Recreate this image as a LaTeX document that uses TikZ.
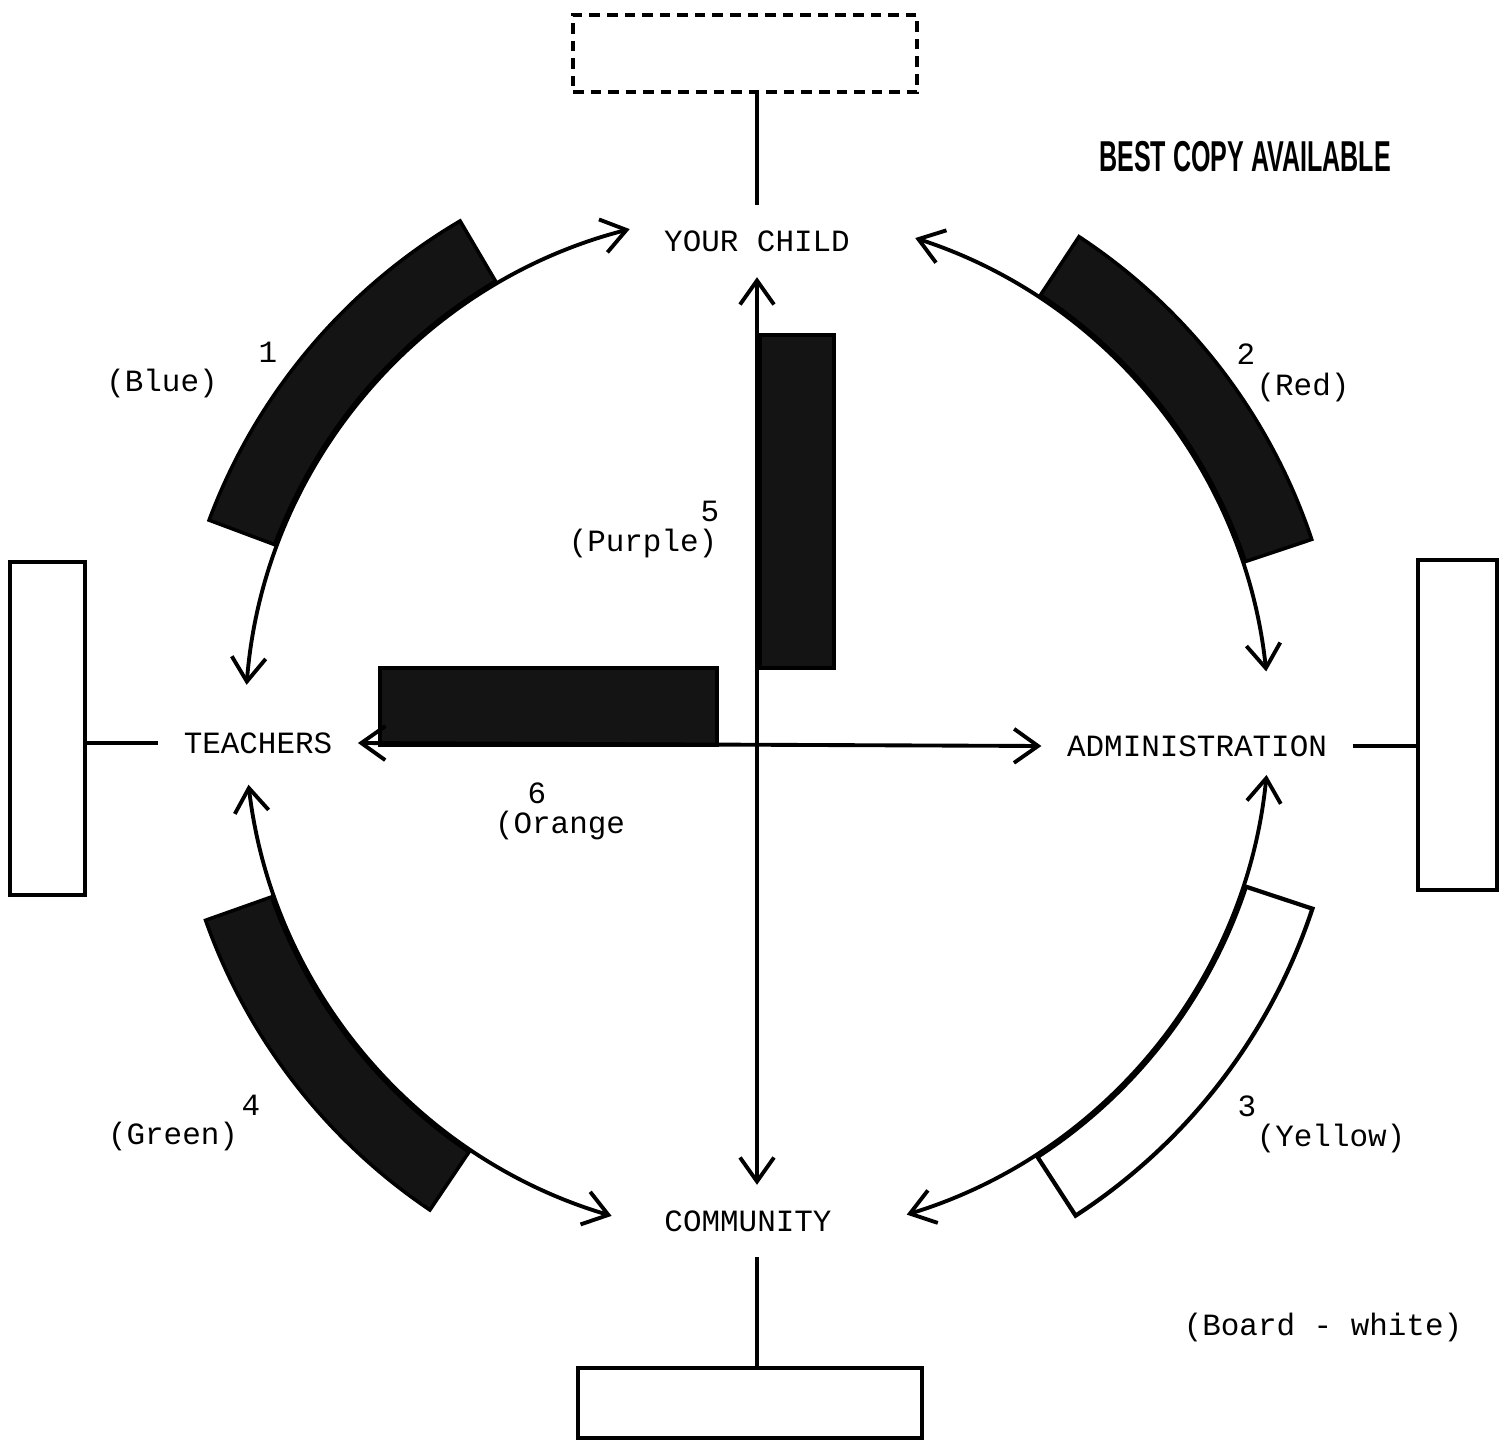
\documentclass[tikz,border=0pt]{standalone}
\usepackage{fontspec}
\setmonofont{Liberation Mono}
\newfontfamily\stampfont{Liberation Sans}
\usetikzlibrary{arrows.meta,calc}

\begin{document}
\begin{tikzpicture}[
    word/.style={font=\ttfamily\fontsize{8.8}{10}\selectfont, inner sep=0.25cm},
    note/.style={font=\ttfamily\fontsize{8.8}{10}\selectfont, inner sep=0pt},
    board/.style={draw, line width=1.3pt, inner sep=0pt},
    stub/.style={line width=1.4pt},
    link/.style={{Straight Barb[length=2.4mm,width=3.4mm]}-{Straight Barb[length=2.4mm,width=3.4mm]}, line width=1.1pt},
    band/.style={draw, line width=1pt, fill=black!92},
    paleband/.style={draw, line width=1.2pt, fill=white},
]
    \useasboundingbox (0,0) rectangle (15.01,-14.41);
    \coordinate (c) at (7.57,-7.25);

    % Bands on the ring
    \foreach \a/\b/\s in {120.5/159.5/band, 18.5/56.6/band, -57/-18.3/paleband, 199.5/236/band}
        \draw[\s] ($(c)+(\a:5.15)$) arc[start angle=\a, end angle=\b, radius=5.15]
            -- ($(c)+(\b:5.85)$) arc[start angle=\b, end angle=\a, radius=5.85] -- cycle;

    % Bars 5 and 6
    \node[band, minimum width=0.74cm, minimum height=3.33cm, inner sep=0pt] (bar5) at (7.97,-5.015) {};
    \node[band, minimum width=3.37cm, minimum height=0.77cm, inner sep=0pt] (bar6) at (5.485,-7.065) {};

    % Boards
    \node[board, densely dashed, line width=0.9pt, minimum width=3.44cm, minimum height=0.77cm] (topboard) at (7.45,-0.535) {};
    \node[board, minimum width=0.75cm, minimum height=3.33cm] (leftboard) at (0.475,-7.285) {};
    \node[board, minimum width=0.79cm, minimum height=3.30cm] (rightboard) at (14.575,-7.25) {};
    \node[board, minimum width=3.44cm, minimum height=0.70cm] (botboard) at (7.50,-14.03) {};

    % Groups
    \node[word] (child) at (7.57,-2.41) {YOUR CHILD};
    \node[word] (teach) at (2.58,-7.43) {TEACHERS};
    \node[word] (admin) at (11.97,-7.46) {ADMINISTRATION};
    \node[word] (comm) at (7.48,-12.21) {COMMUNITY};

    \draw[stub] (topboard.south -| child.north) -- (child.north);
    \draw[stub] (leftboard.east |- teach.west) -- (teach.west);
    \draw[stub] (admin.east) -- (admin.east -| rightboard.west);
    \draw[stub] (child.south |- comm.south) -- (child.south |- botboard.north);

    % Links
    \draw[link] (child.south) -- (child.south |- comm.north);
    \draw[link] (teach.east) -- (admin.west);
    \foreach \a/\b in {175.5/104.4, 72/6, -5.6/-73, 186.7/253.5}
        \draw[link] ($(c)+(\a:5.12)$) arc[start angle=\a, end angle=\b, radius=5.12];

    % Labels
    \node[note] (n1) at (2.68,-3.52) {1};
    \node[note] (blue) at (1.62,-3.84) {(Blue)};
    \node[note] (n2) at (12.46,-3.54) {2};
    \node[note] (red) at (13.03,-3.88) {(Red)};
    \node[note] (n3) at (12.47,-11.06) {3};
    \node[note] (yellow) at (13.31,-11.38) {(Yellow)};
    \node[note] (n4) at (2.51,-11.05) {4};
    \node[note] (green) at (1.73,-11.36) {(Green)};
    \node[note] (n5) at (7.10,-5.11) {5};
    \node[note] (purple) at (6.43,-5.44) {(Purple)};
    \node[note] (n6) at (5.37,-7.93) {6};
    \node[note] (orange) at (5.60,-8.26) {(Orange};
    \node[note] (boardnote) at (13.23,-13.27) {(Board - white)};
    \node[font=\stampfont\bfseries\fontsize{12.3}{14}\selectfont, inner sep=0pt] (stamp) at (12.45,-1.57) {\scalebox{0.58}[1]{BEST COPY AVAILABLE}};
\end{tikzpicture}
\end{document}
